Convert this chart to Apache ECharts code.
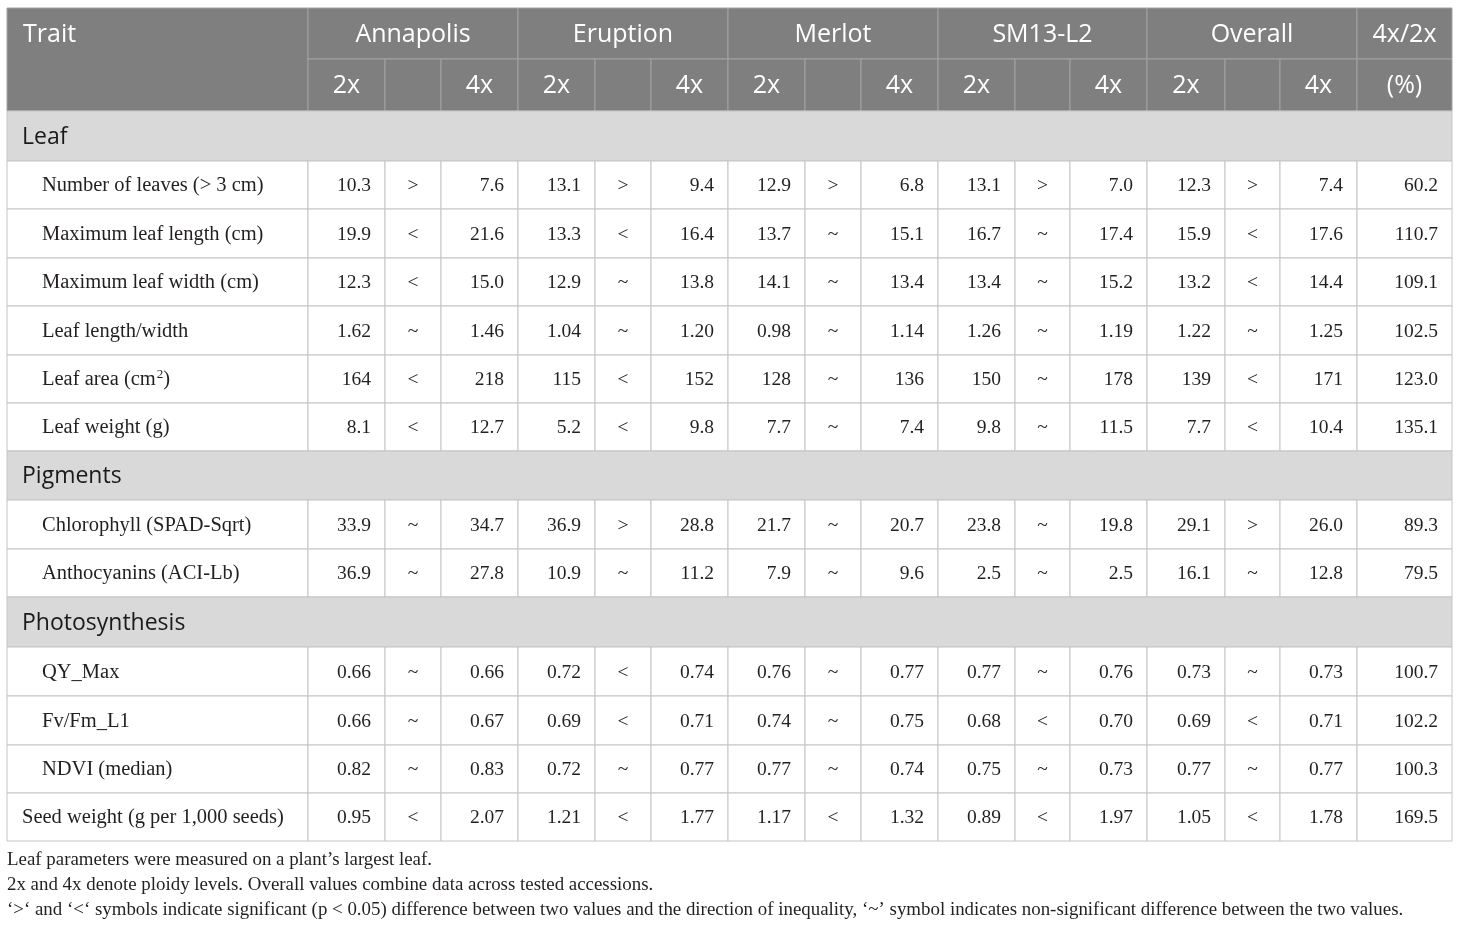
<!DOCTYPE html>
<html lang="en">
<head>
<meta charset="UTF-8">
<title>Traits table</title>
<script src="https://cdn.jsdelivr.net/npm/echarts@6/dist/echarts.min.js"></script>
<style>
  html, body { margin: 0; padding: 0; background: #fff; }
  #main { width: 1460px; height: 928px; }
</style>
</head>
<body>
<div id="main"></div>
<script>
// ---- data ----
var accessions = ['Annapolis', 'Eruption', 'Merlot', 'SM13-L2', 'Overall'];
var sections = ['Leaf', 'Pigments', 'Photosynthesis'];
var traits = [
  'Number of leaves (> 3 cm)',
  'Maximum leaf length (cm)',
  'Maximum leaf width (cm)',
  'Leaf length/width',
  'Leaf area (cm{sup|2})',
  'Leaf weight (g)',
  'Chlorophyll (SPAD-Sqrt)',
  'Anthocyanins (ACI-Lb)',
  'QY_Max',
  'Fv/Fm_L1',
  'NDVI (median)',
  'Seed weight (g per 1,000 seeds)'
];
var traitSection = [0, 0, 0, 0, 0, 0, 1, 1, 2, 2, 2, -1];
var traitDecimals = [1, 1, 1, 2, 0, 1, 1, 1, 2, 2, 2, 2];

var annapolis2x = [10.3, 19.9, 12.3, 1.62, 164, 8.1, 33.9, 36.9, 0.66, 0.66, 0.82, 0.95];
var annapolisSig = ['>', '<', '<', '~', '<', '<', '~', '~', '~', '~', '~', '<'];
var annapolis4x = [7.6, 21.6, 15.0, 1.46, 218, 12.7, 34.7, 27.8, 0.66, 0.67, 0.83, 2.07];

var eruption2x = [13.1, 13.3, 12.9, 1.04, 115, 5.2, 36.9, 10.9, 0.72, 0.69, 0.72, 1.21];
var eruptionSig = ['>', '<', '~', '~', '<', '<', '>', '~', '<', '<', '~', '<'];
var eruption4x = [9.4, 16.4, 13.8, 1.20, 152, 9.8, 28.8, 11.2, 0.74, 0.71, 0.77, 1.77];

var merlot2x = [12.9, 13.7, 14.1, 0.98, 128, 7.7, 21.7, 7.9, 0.76, 0.74, 0.77, 1.17];
var merlotSig = ['>', '~', '~', '~', '~', '~', '~', '~', '~', '~', '~', '<'];
var merlot4x = [6.8, 15.1, 13.4, 1.14, 136, 7.4, 20.7, 9.6, 0.77, 0.75, 0.74, 1.32];

var sm13l2_2x = [13.1, 16.7, 13.4, 1.26, 150, 9.8, 23.8, 2.5, 0.77, 0.68, 0.75, 0.89];
var sm13l2Sig = ['>', '~', '~', '~', '~', '~', '~', '~', '~', '<', '~', '<'];
var sm13l2_4x = [7.0, 17.4, 15.2, 1.19, 178, 11.5, 19.8, 2.5, 0.76, 0.70, 0.73, 1.97];

var overall2x = [12.3, 15.9, 13.2, 1.22, 139, 7.7, 29.1, 16.1, 0.73, 0.69, 0.77, 1.05];
var overallSig = ['>', '<', '<', '~', '<', '<', '>', '~', '~', '<', '~', '<'];
var overall4x = [7.4, 17.6, 14.4, 1.25, 171, 10.4, 26.0, 12.8, 0.73, 0.71, 0.77, 1.78];

var ratioPct = [60.2, 110.7, 109.1, 102.5, 123.0, 135.1, 89.3, 79.5, 100.7, 102.2, 100.3, 169.5];

var footnotes = [
  'Leaf parameters were measured on a plant\u2019s largest leaf.',
  '2x and 4x denote ploidy levels. Overall values combine data across tested accessions.',
  '\u2018>\u2018 and \u2018<\u2018 symbols indicate significant (p < 0.05) difference between two values and the direction of inequality, \u2018~\u2019 symbol indicates non-significant difference between the two values.'
];

// ---- layout ----
var colWidths = [301, 77, 56, 77, 77, 56, 77, 77, 56, 77, 77, 55, 77, 78, 55, 77, 95];
var rowHeights = [51, 52, 50, 48, 49, 48, 49, 48, 48, 49, 49, 48, 50, 49, 49, 48, 48];

var colEdges = [0];
colWidths.forEach(function (w) { colEdges.push(colEdges[colEdges.length - 1] + w); });
var rowEdges = [0];
rowHeights.forEach(function (h) { rowEdges.push(rowEdges[rowEdges.length - 1] + h); });

var serif = '"Liberation Serif", "DejaVu Serif", serif';
var sans = '"Open Sans", "Noto Sans", sans-serif';
var kinds = {
  head: { bg: '#7f7f7f', line: '#a3a3a3', color: '#ffffff', font: '25px ' + sans },
  section: { bg: '#d9d9d9', line: '#c4c4c4', color: '#1a1a1a', font: '23px ' + sans },
  label: { bg: '#ffffff', line: '#c4c4c4', color: '#231f20', font: '20.5px ' + serif },
  num: { bg: '#ffffff', line: '#c4c4c4', color: '#231f20', font: '19.5px ' + serif }
};

var accCols = [
  { v2: annapolis2x, s: annapolisSig, v4: annapolis4x },
  { v2: eruption2x, s: eruptionSig, v4: eruption4x },
  { v2: merlot2x, s: merlotSig, v4: merlot4x },
  { v2: sm13l2_2x, s: sm13l2Sig, v4: sm13l2_4x },
  { v2: overall2x, s: overallSig, v4: overall4x }
];

// ---- build cells ----
var cells = [];
function addCell(c0, c1, r0, r1, text, kind, align, pad, textRow) {
  var tr = textRow == null ? null : [rowEdges[textRow], rowEdges[textRow + 1]];
  cells.push({
    x0: colEdges[c0], x1: colEdges[c1], y0: rowEdges[r0], y1: rowEdges[r1],
    text: text, kind: kind, align: align || 'center', pad: pad || 0, textRow: tr
  });
}

// header
addCell(0, 1, 0, 2, 'Trait', 'head', 'left', 16, 0);
accessions.forEach(function (name, i) {
  var c = 1 + i * 3;
  addCell(c, c + 3, 0, 1, name, 'head');
  addCell(c, c + 1, 1, 2, '2x', 'head');
  addCell(c + 1, c + 2, 1, 2, '', 'head');
  addCell(c + 2, c + 3, 1, 2, '4x', 'head');
});
addCell(16, 17, 0, 1, '4x/2x', 'head');
addCell(16, 17, 1, 2, '(%)', 'head');

// body
var r = 2;
var lastSection = -1;
traits.forEach(function (label, t) {
  var sec = traitSection[t];
  if (sec >= 0 && sec !== lastSection) {
    addCell(0, 17, r, r + 1, sections[sec], 'section', 'left', 15);
    r++;
    lastSection = sec;
  }
  addCell(0, 1, r, r + 1, label, 'label', 'left', sec >= 0 ? 35 : 15);
  var d = traitDecimals[t];
  accCols.forEach(function (acc, i) {
    var c = 1 + i * 3;
    addCell(c, c + 1, r, r + 1, acc.v2[t].toFixed(d), 'num', 'right', 14);
    addCell(c + 1, c + 2, r, r + 1, acc.s[t], 'num', 'center');
    addCell(c + 2, c + 3, r, r + 1, acc.v4[t].toFixed(d), 'num', 'right', 14);
  });
  addCell(16, 17, r, r + 1, ratioPct[t].toFixed(1), 'num', 'right', 14);
  r++;
});

function renderItem(params, api) {
  var c = cells[params.dataIndex];
  var p0 = api.coord([c.x0, c.y0]);
  var p1 = api.coord([c.x1, c.y1]);
  var st = kinds[c.kind];
  var tx = c.align === 'left' ? p0[0] + c.pad
    : c.align === 'right' ? p1[0] - c.pad
    : (p0[0] + p1[0]) / 2;
  var ty = (p0[1] + p1[1]) / 2;
  if (c.textRow) {
    ty = (api.coord([0, c.textRow[0]])[1] + api.coord([0, c.textRow[1]])[1]) / 2;
  }
  return {
    type: 'group',
    children: [
      {
        type: 'rect',
        shape: { x: p0[0], y: p0[1], width: p1[0] - p0[0], height: p1[1] - p0[1] },
        style: { fill: st.bg, stroke: st.line, lineWidth: 1 }
      },
      {
        type: 'text',
        x: tx,
        y: ty + 1,
        style: {
          text: c.text,
          font: st.font,
          fill: st.color,
          align: c.align,
          verticalAlign: 'middle',
          rich: {
            sup: { font: '13px ' + serif, fill: st.color, verticalAlign: 'top', padding: [0, 0, 11, 1] }
          }
        }
      }
    ]
  };
}

var chart = echarts.init(document.getElementById('main'));
chart.setOption({
  animation: false,
  grid: { left: 7, top: 8, width: colEdges[colEdges.length - 1], height: rowEdges[rowEdges.length - 1] },
  xAxis: { type: 'value', min: 0, max: colEdges[colEdges.length - 1], show: false },
  yAxis: { type: 'value', min: 0, max: rowEdges[rowEdges.length - 1], inverse: true, show: false },
  graphic: footnotes.map(function (line, i) {
    return {
      type: 'text',
      left: 7,
      top: 851 + i * 25,
      style: { text: line, font: '18.9px ' + serif, fill: '#231f20' }
    };
  }),
  series: [{
    type: 'custom',
    clip: false,
    renderItem: renderItem,
    encode: { x: [0, 1], y: [2, 3] },
    data: cells.map(function (c) { return [c.x0, c.x1, c.y0, c.y1]; })
  }]
});
</script>
</body>
</html>
